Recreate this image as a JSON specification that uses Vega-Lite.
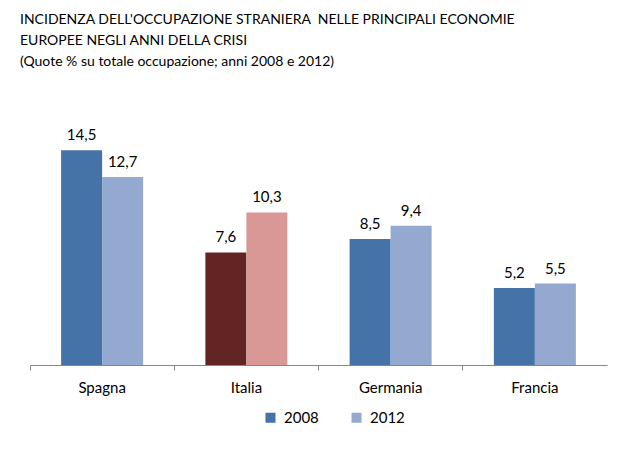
{
  "$schema": "https://vega.github.io/schema/vega-lite/v6.json",
  "width": 577,
  "height": 237,
  "autosize": {"type": "none"},
  "padding": {"left": 30, "top": 128, "right": 21, "bottom": 97},
  "background": "white",
  "title": {
    "text": ["INCIDENZA DELL'OCCUPAZIONE STRANIERA \u00a0NELLE PRINCIPALI ECONOMIE", "EUROPEE NEGLI ANNI DELLA CRISI", "(Quote % su totale occupazione; anni 2008 e 2012)"],
    "anchor": "start",
    "frame": "group",
    "orient": "top",
    "dx": -10,
    "offset": 45,
    "font": "Lato",
    "fontSize": 14,
    "fontWeight": "normal",
    "color": "#000000",
    "lineHeight": 21,
    "baseline": "bottom"
  },
  "data": {
    "values": [
      {"paese": "Spagna", "anno": "2008", "quota": 14.5},
      {"paese": "Spagna", "anno": "2012", "quota": 12.7},
      {"paese": "Italia", "anno": "2008", "quota": 7.6},
      {"paese": "Italia", "anno": "2012", "quota": 10.3},
      {"paese": "Germania", "anno": "2008", "quota": 8.5},
      {"paese": "Germania", "anno": "2012", "quota": 9.4},
      {"paese": "Francia", "anno": "2008", "quota": 5.2},
      {"paese": "Francia", "anno": "2012", "quota": 5.5}
    ]
  },
  "encoding": {
    "x": {
      "field": "paese",
      "type": "nominal",
      "sort": ["Spagna", "Italia", "Germania", "Francia"],
      "scale": {"paddingInner": 0, "paddingOuter": 0},
      "axis": {
        "title": null,
        "bandPosition": 0,
        "labelAngle": 0,
        "labelFont": "Lato",
        "labelFontSize": 15,
        "labelColor": "#000000",
        "labelPadding": 10,
        "tickSize": 5,
        "tickColor": "#868686",
        "domainColor": "#868686",
        "labelAlign": "center",
        "labelBaseline": "top",
        "grid": false
      }
    },
    "xOffset": {
      "field": "anno",
      "type": "nominal",
      "scale": {"paddingInner": 0, "paddingOuter": 0.759}
    },
    "y": {
      "field": "quota",
      "type": "quantitative",
      "scale": {"domain": [0, 16], "nice": false},
      "axis": null
    }
  },
  "layer": [
    {
      "mark": {"type": "bar"},
      "encoding": {
        "color": {
          "field": "anno",
          "type": "nominal",
          "scale": {"domain": ["2008", "2012"], "range": ["#4572A7", "#93A9CF"]},
          "condition": [
            {"test": "datum.paese === 'Italia' && datum.anno === '2008'", "value": "#632523"},
            {"test": "datum.paese === 'Italia' && datum.anno === '2012'", "value": "#D99795"}
          ],
          "legend": {
            "title": null,
            "orient": "none",
            "legendX": 233,
            "legendY": 282,
            "direction": "horizontal",
            "symbolType": "square",
            "symbolSize": 100,
            "symbolStrokeWidth": 0,
            "labelFont": "Lato",
            "labelFontSize": 15,
            "labelColor": "#000000",
            "labelOffset": 6,
            "columnPadding": 30
          }
        }
      }
    },
    {
      "mark": {
        "type": "text",
        "baseline": "alphabetic",
        "dy": -10,
        "font": "Lato",
        "fontSize": 15,
        "color": "#000000"
      },
      "encoding": {
        "text": {"field": "quota", "type": "quantitative", "format": ".1f"}
      }
    }
  ],
  "config": {
    "view": {"stroke": null},
    "locale": {
      "number": {"decimal": ",", "thousands": ".", "grouping": [3], "currency": ["€", ""]}
    }
  }
}
